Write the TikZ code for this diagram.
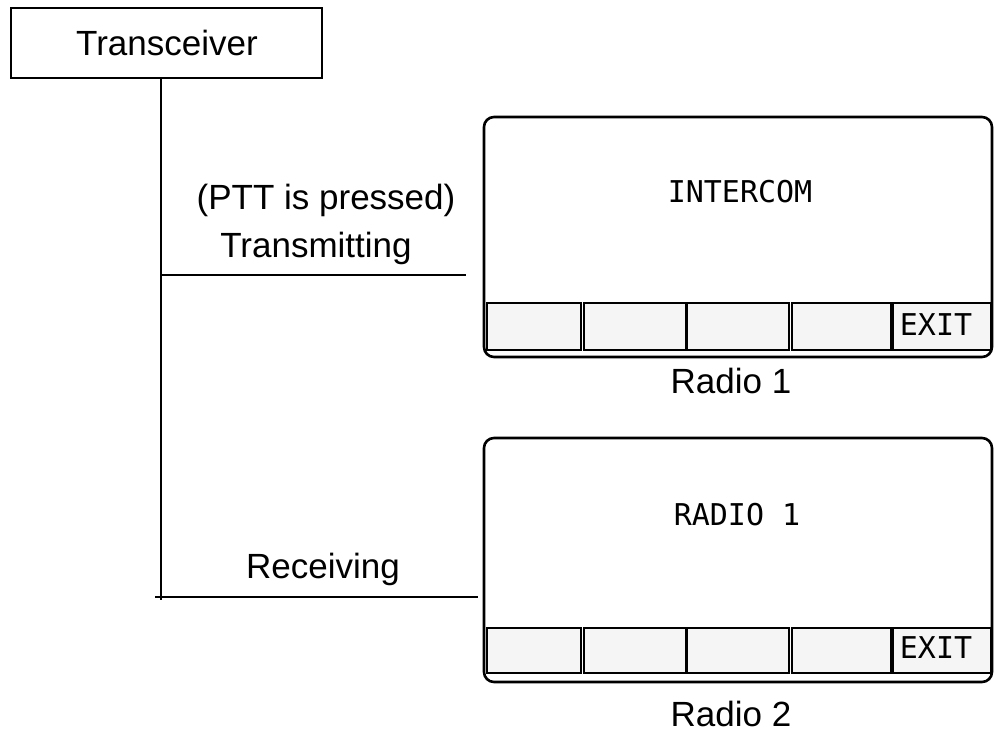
\documentclass[tikz,border=0pt]{standalone}
\usepackage{fontspec}
\setmainfont{Liberation Sans}
\newfontfamily\lcdfont{DejaVu Sans Mono}
\begin{document}
\begin{tikzpicture}[x=1pt,y=-1pt,
  lbl/.style={font=\fontsize{35}{40}\selectfont, inner sep=0pt},
  lcd/.style={font=\lcdfont\fontsize{30}{36}\selectfont, inner sep=0pt},
  screen/.style={draw, line width=2.6pt, rounded corners=10pt, inner sep=0pt},
  softkey/.style={draw, line width=1.8pt, fill=black!4, inner sep=0pt},
  wire/.style={line width=1.3pt}]
\useasboundingbox (0,0) rectangle (994,732);
% Transceiver box
\node[draw, line width=1.5pt, minimum width=311pt, minimum height=70pt, inner sep=0pt] (trx) at (166.5,43) {};
\node[lbl] (trxt) at (167,43) {Transceiver};
% trunk
\coordinate (ttop) at (161,78);
\coordinate (tbot) at (161,600);
\coordinate (tx) at (161,275);
\coordinate (txend) at (466,275);
\coordinate (rxstart) at (155,597);
\coordinate (rxend) at (478,597);
\draw[wire] (ttop) -- (tbot);
\draw[wire] (tx) -- (txend);
\draw[wire] (rxstart) -- (rxend);
% labels
\node[lbl] (ptt) at (326,200) {(PTT is pressed)};
\node[lbl] (txl) at (316,248) {Transmitting};
\node[lbl] (rxl) at (323,569) {Receiving};
% Screen 1
\node[screen, minimum width=508pt, minimum height=240pt] (s1) at (738,237) {};
\node[lcd] (s1t) at (740,192) {INTERCOM};
\node[softkey, minimum width=94pt, minimum height=47pt] (a1) at (534,326.5) {};
\node[softkey, minimum width=102pt, minimum height=47pt] (a2) at (635,326.5) {};
\node[softkey, minimum width=102pt, minimum height=47pt] (a3) at (738,326.5) {};
\node[softkey, minimum width=99pt, minimum height=47pt] (a4) at (841.5,326.5) {};
\node[softkey, minimum width=98pt, minimum height=47pt] (a5) at (942,326.5) {};
\node[lcd] (a5t) at (936,325) {EXIT};
\node[lbl] (r1) at (731,381) {Radio 1};
% Screen 2
\node[screen, minimum width=508pt, minimum height=244pt] (s2) at (738,560) {};
\node[lcd] (s2t) at (737,515) {RADIO 1};
\node[softkey, minimum width=94pt, minimum height=45pt] (b1) at (534,650.5) {};
\node[softkey, minimum width=102pt, minimum height=45pt] (b2) at (635,650.5) {};
\node[softkey, minimum width=102pt, minimum height=45pt] (b3) at (738,650.5) {};
\node[softkey, minimum width=99pt, minimum height=45pt] (b4) at (841.5,650.5) {};
\node[softkey, minimum width=98pt, minimum height=45pt] (b5) at (942,650.5) {};
\node[lcd] (b5t) at (936,648) {EXIT};
\node[lbl] (r2) at (731,714) {Radio 2};
\end{tikzpicture}
\end{document}
